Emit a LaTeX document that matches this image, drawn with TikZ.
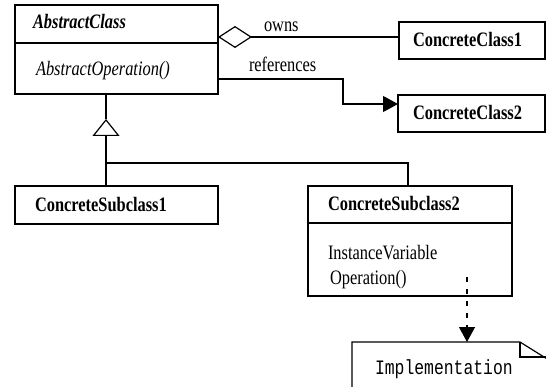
\documentclass[tikz,border=0pt]{standalone}
\usepackage{fontspec}
\setmainfont{Liberation Serif}[FakeStretch=0.8]
\setmonofont{Liberation Mono}[FakeStretch=0.8]
\usetikzlibrary{arrows.meta}
\begin{document}
\begin{tikzpicture}[x=1pt,y=-1pt,
  every node/.style={font=\fontsize{20.5}{24}\selectfont},
  box/.style={draw,line width=1.2pt,anchor=north west,inner sep=0pt,outer sep=0pt},
  lbl/.style={anchor=base west,inner sep=0pt,outer sep=0pt},
  conn/.style={line width=1.2pt},
  solidtip/.style={-{Triangle[length=15pt,width=16pt]}},
  diamondtip/.style={-{Diamond[open,length=34pt,width=22pt]}},
  inherit/.style={-{Triangle[open,length=17pt,width=27pt]}}
]
\useasboundingbox (0,0) rectangle (546,387);
\clip (0,0) rectangle (546,387);

% AbstractClass
\node[box,minimum width=203pt,minimum height=89pt] (ac) at (15,5) {};
\draw[conn] (15,43) -- (218,43);
\node[lbl] (acname) at (33,29) {\textbf{\textit{AbstractClass}}};
\node[lbl] (acop) at (36,76) {\textit{AbstractOperation()}};

% ConcreteClass1
\node[box,minimum width=146pt,minimum height=37pt] (cc1) at (399,22) {};
\node[lbl] (cc1name) at (413,47) {\textbf{ConcreteClass1}};

% ConcreteClass2
\node[box,minimum width=147pt,minimum height=37pt] (cc2) at (398,95) {};
\node[lbl] (cc2name) at (413,120) {\textbf{ConcreteClass2}};

% ConcreteSubclass1
\node[box,minimum width=203pt,minimum height=38pt] (cs1) at (15,186) {};
\node[lbl] (cs1name) at (35,212) {\textbf{ConcreteSubclass1}};

% ConcreteSubclass2
\node[box,minimum width=204pt,minimum height=110pt] (cs2) at (308,186) {};
\draw[conn] (308,223) -- (512,223);
\node[lbl] (cs2name) at (328,211) {\textbf{ConcreteSubclass2}};
\node[lbl] (iv) at (328,260) {InstanceVariable};
\node[lbl] (op) at (330,284) {Operation()};

% Implementation note
\coordinate (nt) at (467,342);
\draw[conn] (352,392) -- (352,342) -- (520,342) -- (548,359.5);
\draw[conn] (520,342) -- (520,357) -- (548,357);
\node[lbl,font=\fontsize{20.5}{24}\selectfont\ttfamily] (impl) at (375,374) {Implementation};

% owns (aggregation)
\coordinate (acR1) at (ac.north east |- 0,37);
\draw[conn,diamondtip] (cc1.west |- acR1) -- (acR1);
\node[lbl] (owns) at (264,32) {owns};

% references
\coordinate (acR2) at (ac.north east |- 0,79);
\coordinate (bend) at (343,79);
\draw[conn,solidtip] (acR2) -- (bend) |- (cc2.west |- 0,104);
\node[lbl] (refs) at (249,72) {references};

% inheritance
\coordinate (junc) at (106,163);
\coordinate (apex) at (106,119);
\draw[conn] (ac.south west -| junc) -- (apex);
\draw[conn,inherit] (cs1.north west -| junc) -- (apex);
\draw[conn] (cs2.north west -| 408,0) -- (408,163) -- (junc);

% implementation dependency
\coordinate (opdot) at (467,277);
\draw[conn,dash pattern=on 5pt off 7pt,solidtip] (opdot) -- (nt);
\end{tikzpicture}
\end{document}
